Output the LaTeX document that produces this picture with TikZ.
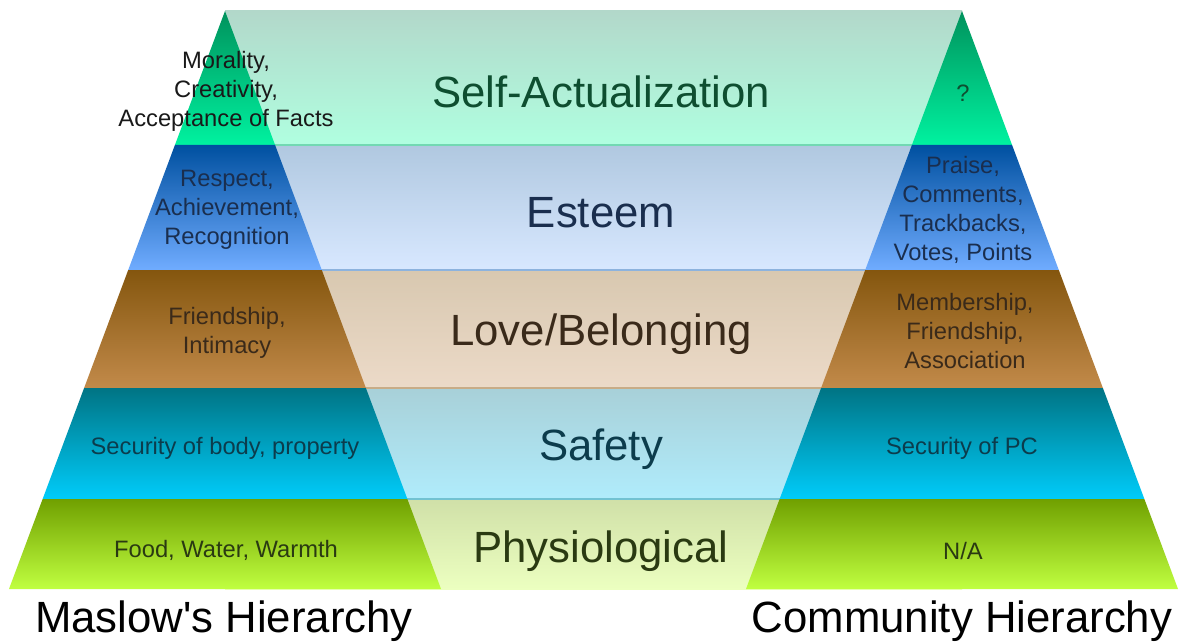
\documentclass[tikz,border=0pt]{standalone}
\usepackage{fontspec}
\setmainfont{Liberation Sans}[Ligatures=TeXOff]
\usepackage{xcolor}

% triangle bands (dark top, light bottom)
\definecolor{selfD}{RGB}{0,146,92}
\definecolor{selfL}{RGB}{0,242,160}
\definecolor{estD}{RGB}{0,80,160}
\definecolor{estL}{RGB}{112,172,255}
\definecolor{loveD}{RGB}{132,86,14}
\definecolor{loveL}{RGB}{194,138,74}
\definecolor{safeD}{RGB}{0,116,132}
\definecolor{safeL}{RGB}{0,204,250}
\definecolor{physD}{RGB}{112,160,0}
\definecolor{physL}{RGB}{192,255,64}
% middle bands (pale)
\definecolor{selfP}{RGB}{178,216,202}
\definecolor{selfQ}{RGB}{176,255,224}
\definecolor{estP}{RGB}{176,200,224}
\definecolor{estQ}{RGB}{216,232,255}
\definecolor{loveP}{RGB}{216,200,176}
\definecolor{loveQ}{RGB}{236,218,200}
\definecolor{safeP}{RGB}{168,208,216}
\definecolor{safeQ}{RGB}{176,236,252}
\definecolor{physP}{RGB}{208,224,168}
\definecolor{physQ}{RGB}{236,255,192}
% texts
\definecolor{selfT}{RGB}{14,78,48}
\definecolor{estT}{RGB}{26,46,78}
\definecolor{loveT}{RGB}{58,42,26}
\definecolor{safeT}{RGB}{12,60,76}
\definecolor{physT}{RGB}{42,58,18}

\begin{document}
\begin{tikzpicture}[x=0.75pt,y=-0.75pt,
    bandlabel/.style={font=\fontsize{32.8pt}{38pt}\selectfont,anchor=base},
    detail/.style={font=\fontsize{17.8pt}{21.8pt}\selectfont,align=center,inner sep=0pt},
    hname/.style={font=\fontsize{32.8pt}{38pt}\selectfont,anchor=base,text=black}]
    \useasboundingbox (0,0) rectangle (1190,642);
    \fill[white] (0,0) rectangle (1190,642);
    \coordinate (mtop) at (225,11);
    \coordinate (ctop) at (962,11);
    % middle bands
    \foreach \a/\b/\pt/\pb in {11/145/selfP/selfQ, 145/270/estP/estQ, 270/388/loveP/loveQ, 388/499/safeP/safeQ, 499/589/physP/physQ}
        \shade[top color=\pt,bottom color=\pb] (225,\a) rectangle (962,\b);
    % seams between the middle bands
    \foreach \b/\ct/\pb in {145/selfD/selfQ, 270/estD/estQ, 388/loveD/loveQ, 499/safeD/safeQ}
        \draw[\ct!35!\pb,line width=1.5] (225,\b) -- (962,\b);
    % the two pyramids
    \foreach \a/\b/\ct/\cb in {11/145/selfD/selfL, 145/270/estD/estL, 270/388/loveD/loveL, 388/499/safeD/safeL, 499/589/physD/physL}
        \foreach \m in {225,962}
            \shade[top color=\ct,bottom color=\cb] ({\m-0.3737*(\a-11)},\a) -- ({\m+0.3737*(\a-11)},\a)
                -- ({\m+0.3737*(\b-11)},\b) -- ({\m-0.3737*(\b-11)},\b) -- cycle;

    \node[bandlabel,text=selfT] (sa) at (601,108) {Self-Actualization};
    \node[bandlabel,text=estT] (es) at (601,227) {Esteem};
    \node[bandlabel,text=loveT] (lb) at (601,345) {Love/Belonging};
    \node[bandlabel,text=safeT] (sf) at (601,460) {Safety};
    \node[bandlabel,text=physT] (ph) at (601,562) {Physiological};

    \node[detail,text=black!90] (m1) at (226,91) {Morality,\\Creativity,\\Acceptance of Facts};
    \node[detail,text=estT] (m2) at (227,210) {Respect,\\Achievement,\\Recognition};
    \node[detail,text=loveT] (m3) at (227,333) {Friendship,\\Intimacy};
    \node[detail,text=safeT] (m4) at (225,448) {Security of body, property};
    \node[detail,text=physT] (m5) at (226,550) {Food, Water, Warmth};

    \node[detail,text=selfT] (c1) at (963,93) {?};
    \node[detail,text=estT] (c2) at (963,210) {Praise,\\Comments,\\Trackbacks,\\Votes, Points};
    \node[detail,text=loveT] (c3) at (965,331) {Membership,\\Friendship,\\Association};
    \node[detail,text=safeT] (c4) at (962,448) {Security of PC};
    \node[detail,text=physT] (c5) at (963,551) {N/A};

    \node[hname] (mh) at (224,632) {Maslow's Hierarchy};
    \node[hname] (ch) at (962,632) {Community Hierarchy};
\end{tikzpicture}
\end{document}
